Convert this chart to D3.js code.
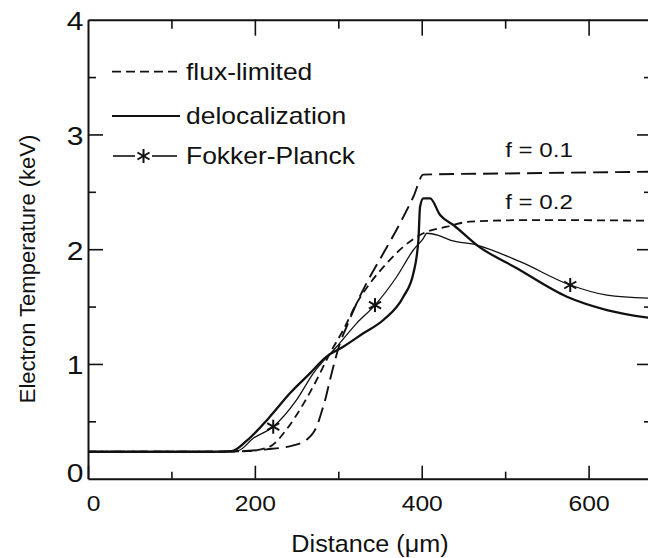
<!DOCTYPE html>
<html>
<head>
<meta charset="utf-8">
<script src="https://cdn.jsdelivr.net/npm/d3@7"></script>
<style>
  html, body { margin: 0; padding: 0; background: #fff; }
  svg text { font-family: "Liberation Sans", Arial, Helvetica, sans-serif; fill: #111; }
</style>
</head>
<body>
<svg id="chart" width="648" height="558"></svg>
<script>
// ---- data (x in µm, y in keV) ----
const xTickLabels = [0, 200, 400, 600];
const xMinorTicks = [100, 300, 500, 700];
const yTickLabels = [0, 1, 2, 3, 4];
const yMinorTicks = [0.5, 1.5, 2.5, 3.5];

const flux01X = [0, 160, 214, 246, 262, 270, 275, 279, 284, 290, 296, 302, 310, 322, 338, 354, 374, 390, 402, 500, 676];
const flux01Y = [0.235, 0.235, 0.256, 0.29, 0.34, 0.40, 0.47, 0.56, 0.68, 0.86, 1.03, 1.18, 1.325, 1.529, 1.76, 1.964, 2.226, 2.457, 2.65, 2.66, 2.675];

const flux02X = [0, 150, 190, 218, 238, 258, 274, 290, 306, 322, 338, 358, 378, 402, 430, 458, 534, 676];
const flux02Y = [0.235, 0.235, 0.24, 0.28, 0.43, 0.65, 0.86, 1.093, 1.296, 1.529, 1.703, 1.877, 2.022, 2.139, 2.196, 2.24, 2.254, 2.248];

const delocX = [0, 150, 172, 190, 218, 242, 266, 286, 306, 330, 354, 378, 390, 396, 398, 402, 410, 422, 438, 466, 514, 574, 622, 676];
const delocY = [0.235, 0.235, 0.24, 0.33, 0.54, 0.744, 0.918, 1.063, 1.15, 1.267, 1.383, 1.586, 1.79, 2.08, 2.37, 2.443, 2.443, 2.298, 2.211, 2.036, 1.834, 1.586, 1.47, 1.398];

const fpX = [0, 150, 180, 198, 222, 250, 270, 298, 322, 344, 370, 390, 402, 406, 420, 434, 466, 518, 578, 622, 676];
const fpY = [0.235, 0.235, 0.245, 0.352, 0.453, 0.686, 0.918, 1.15, 1.354, 1.513, 1.76, 1.993, 2.095, 2.139, 2.12, 2.08, 2.036, 1.891, 1.688, 1.6, 1.572];

const fpStarX = [222, 344, 578];
const fpStarY = [0.453, 1.513, 1.688];

const legendLabels = ["flux-limited", "delocalization", "Fokker-Planck"];
const curveLabels = ["f = 0.1", "f = 0.2"];
const curveLabelPos = [[500, 2.8], [500, 2.35]];

// ---- layout ----
const svg = d3.select("#chart");
const x = d3.scaleLinear().domain([0, 676]).range([88, 652]);
const y = d3.scaleLinear().domain([0, 4]).range([478.7, 19.7]);
const FONT = "'Liberation Sans', Arial, Helvetica, sans-serif";

function zip(xs, ys) { return xs.map((v, i) => [v, ys[i]]); }
const line = d3.line().x(d => x(d[0])).y(d => y(d[1])).curve(d3.curveMonotoneX);

function stext(s, px, py, size, anchor, sx) {
  return svg.append("text")
    .attr("transform", `translate(${px},${py}) scale(${sx},1)`)
    .attr("text-anchor", anchor)
    .style("font-size", size + "px")
    .text(s);
}

function star(g, cx, cy, r, sw) {
  const angles = [90, 30, 150];
  angles.forEach(a => {
    const rad = a * Math.PI / 180;
    g.append("line")
      .attr("x1", cx - r * Math.cos(rad)).attr("y1", cy - r * Math.sin(rad))
      .attr("x2", cx + r * Math.cos(rad)).attr("y2", cy + r * Math.sin(rad))
      .attr("stroke", "#111").attr("stroke-width", sw);
  });
}

// ---- axes ----
function styleAxis(g) {
  g.select(".domain").attr("stroke", "#111").attr("stroke-width", 2);
  g.selectAll(".tick line").attr("stroke", "#111").attr("stroke-width", 1.6);
}

// bottom
const gB = svg.append("g").attr("transform", `translate(0,${y(0)})`)
  .call(d3.axisBottom(x).tickValues(xTickLabels).tickSize(-13).tickPadding(17).tickFormat(d3.format("d")).tickSizeOuter(0));
styleAxis(gB);
gB.selectAll(".tick text").style("font-size", "22px").style("font-family", FONT)
  .attr("fill", "#111").attr("transform", d => d === 0 ? "translate(5,0) scale(1.12,1)" : "scale(1.12,1)");
const gBm = svg.append("g").attr("transform", `translate(0,${y(0)})`)
  .call(d3.axisBottom(x).tickValues(xMinorTicks.filter(v => x(v) < 648)).tickSize(-7).tickFormat("").tickSizeOuter(0));
styleAxis(gBm); gBm.select(".domain").remove();

// top
const gT = svg.append("g").attr("transform", `translate(0,${y(4)})`)
  .call(d3.axisTop(x).tickValues(xTickLabels.filter(v => v > 0)).tickSize(-16).tickFormat("").tickSizeOuter(0));
styleAxis(gT);
const gTm = svg.append("g").attr("transform", `translate(0,${y(4)})`)
  .call(d3.axisTop(x).tickValues(xMinorTicks.filter(v => x(v) < 648)).tickSize(-9).tickFormat("").tickSizeOuter(0));
styleAxis(gTm); gTm.select(".domain").remove();

// left
const gL = svg.append("g").attr("transform", `translate(${x(0)},0)`)
  .call(d3.axisLeft(y).tickValues(yTickLabels).tickSize(-15).tickPadding(5).tickFormat(d3.format("d")).tickSizeOuter(0));
styleAxis(gL);
gL.selectAll(".tick text").style("font-size", "25px").style("font-family", FONT).attr("fill", "#111")
  .attr("dy", "0.4em")
  .attr("x", -4.5 / 1.2)
  .attr("transform", d => d === 0 ? "translate(0,-7) scale(1.2,1)" : "scale(1.2,1)");
gL.selectAll(".tick").filter(d => d === 0 || d === 4).select("line").remove();
const gLm = svg.append("g").attr("transform", `translate(${x(0)},0)`)
  .call(d3.axisLeft(y).tickValues(yMinorTicks).tickSize(-8).tickFormat("").tickSizeOuter(0));
styleAxis(gLm); gLm.select(".domain").remove();

// right
const gR = svg.append("g").attr("transform", `translate(${x(676)},0)`)
  .call(d3.axisRight(y).tickValues([1, 2, 3]).tickSize(-15).tickFormat("").tickSizeOuter(0));
styleAxis(gR);
const gRm = svg.append("g").attr("transform", `translate(${x(676)},0)`)
  .call(d3.axisRight(y).tickValues(yMinorTicks).tickSize(-8).tickFormat("").tickSizeOuter(0));
styleAxis(gRm); gRm.select(".domain").remove();

// ---- curves ----
svg.append("path").datum(zip(flux01X, flux01Y)).attr("d", line)
  .attr("fill", "none").attr("stroke", "#111").attr("stroke-width", 1.9).attr("stroke-dasharray", "15,7");
svg.append("path").datum(zip(flux02X, flux02Y)).attr("d", line)
  .attr("fill", "none").attr("stroke", "#111").attr("stroke-width", 1.8).attr("stroke-dasharray", "8,5");
svg.append("path").datum(zip(fpX, fpY)).attr("d", line)
  .attr("fill", "none").attr("stroke", "#111").attr("stroke-width", 1.3);
svg.append("path").datum(zip(delocX, delocY)).attr("d", line)
  .attr("fill", "none").attr("stroke", "#111").attr("stroke-width", 2.3);

const gStars = svg.append("g");
fpStarX.forEach((v, i) => star(gStars, x(v), y(fpStarY[i]), 7, 2));

// ---- curve labels ----
curveLabels.forEach((s, i) => {
  stext(s, x(curveLabelPos[i][0]), y(curveLabelPos[i][1]), 21, "start", 1.15);
});

// ---- legend ----
const lg = svg.append("g");
const legY = [71.7, 116, 156];
lg.append("line").attr("x1", 112).attr("x2", 180).attr("y1", legY[0]).attr("y2", legY[0])
  .attr("stroke", "#111").attr("stroke-width", 1.8).attr("stroke-dasharray", "9,5");
lg.append("line").attr("x1", 112).attr("x2", 180).attr("y1", legY[1]).attr("y2", legY[1])
  .attr("stroke", "#111").attr("stroke-width", 2);
lg.append("line").attr("x1", 113).attr("x2", 135).attr("y1", legY[2]).attr("y2", legY[2])
  .attr("stroke", "#111").attr("stroke-width", 1.6);
lg.append("line").attr("x1", 152).attr("x2", 177).attr("y1", legY[2]).attr("y2", legY[2])
  .attr("stroke", "#111").attr("stroke-width", 1.6);
star(lg, 143.5, legY[2], 7, 2);
legendLabels.forEach((s, i) => {
  stext(s, 186, legY[i] + 8, 23, "start", 1.15);
});

// ---- axis titles ----
stext("Distance (\u03bcm)", 370, 552, 24, "middle", 1.05);
svg.append("text")
  .attr("transform", "translate(35,269) rotate(-90)")
  .attr("text-anchor", "middle")
  .style("font-size", "22px")
  .text("Electron Temperature (keV)");
</script>
</body>
</html>
